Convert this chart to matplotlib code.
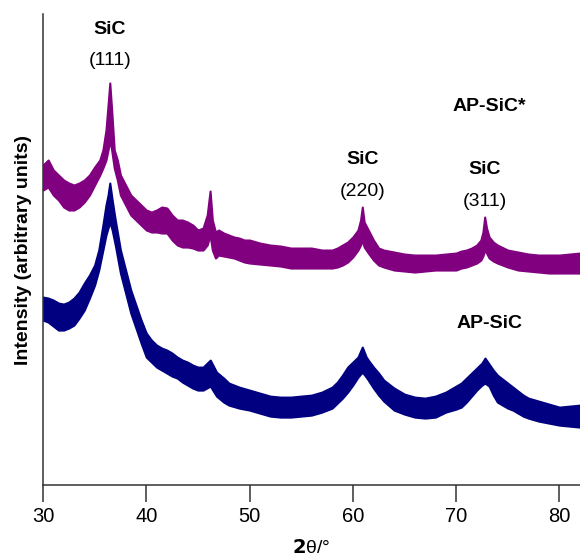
import numpy as np
import matplotlib.pyplot as plt

plt.rcParams['font.family'] = ['Liberation Sans', 'DejaVu Sans']

# AP-SiC* : 2-theta (deg) and upper / lower edge of the noisy trace (arbitrary units)
two_theta_star = [30, 30.5, 31, 31.5, 32, 32.5, 33, 33.5, 34, 34.5, 35, 35.5, 35.8, 36.1,
                  36.3, 36.47, 36.65, 36.9, 37.2, 37.5, 38, 38.5, 39, 39.5, 40, 40.5, 41,
                  41.5, 42, 42.5, 43, 43.5, 44, 44.5, 45, 45.5, 45.9, 46.18, 46.4, 46.7,
                  47, 47.5, 48, 48.5, 49, 49.5, 50, 51, 52, 53, 54, 55, 56, 57, 58, 58.5,
                  59, 59.5, 60, 60.5, 60.75, 60.92, 61.1, 61.5, 62, 62.5, 63, 64, 65, 66,
                  67, 68, 69, 70, 70.5, 71, 71.5, 72, 72.4, 72.6, 72.77, 72.95, 73.2,
                  73.6, 74, 75, 76, 77, 78, 79, 80, 81, 82]
star_upper = [320, 325, 315, 310, 305, 302, 300, 302, 305, 310, 318, 325, 335, 355,
              380, 402, 375, 335, 325, 310, 300, 290, 285, 280, 275, 273, 275,
              278, 277, 270, 265, 265, 263, 260, 255, 257, 270, 294, 265, 253,
              255, 252, 250, 248, 247, 245, 245, 242, 240, 239, 237, 237, 237, 235, 235, 237,
              240, 243, 248, 255, 265, 278, 263, 255, 245, 237, 235, 233, 231, 230,
              230, 230, 231, 232, 234, 235, 237, 240, 245, 253, 268, 257, 248,
              243, 240, 235, 233, 231, 230, 230, 230, 231, 232]
star_lower = [295, 298, 290, 285, 278, 275, 275, 278, 283, 290, 300, 310, 317, 325,
              335, 345, 335, 317, 305, 290, 280, 270, 265, 260, 255, 253, 253,
              252, 252, 245, 240, 238, 238, 237, 235, 235, 240, 250, 235, 227,
              230, 229, 228, 227, 225, 223, 222, 221, 220, 219, 217, 217, 217, 217, 217, 218,
              220, 223, 228, 235, 240, 245, 238, 232, 225, 220, 218, 215, 214, 213,
              214, 215, 215, 215, 217, 218, 220, 222, 225, 229, 235, 232, 227,
              224, 222, 218, 215, 214, 213, 212, 212, 212, 212]

# AP-SiC : 2-theta (deg) and upper / lower edge of the noisy trace (arbitrary units)
two_theta = [30, 30.5, 31, 31.5, 32, 32.5, 33, 33.5, 34, 34.5, 35, 35.4, 35.8, 36.1, 36.3,
             36.47, 36.7, 37, 37.5, 38, 38.5, 39, 39.5, 40, 40.5, 41, 41.5, 42, 42.5,
             43, 43.5, 44, 44.5, 45, 45.5, 46.2, 46.8, 47.5, 48, 49, 50, 51, 52, 53,
             54, 55, 56, 57, 58, 58.5, 59, 59.5, 60, 60.5, 60.92, 61.3, 61.5, 62, 62.5,
             63, 64, 65, 66, 67, 68, 69, 70, 70.5, 71, 71.5, 72, 72.5, 72.8, 73.2,
             73.6, 74, 74.5, 75, 75.5, 76, 76.5, 77, 78, 79, 80, 81, 82]
ap_upper = [188, 187, 185, 182, 181, 183, 187, 193, 202, 210, 220, 235, 260, 280, 290,
            302, 285, 265, 235, 215, 195, 180, 165, 152, 145, 140, 137, 135, 132,
            128, 125, 123, 120, 118, 118, 125, 113, 107, 102, 98, 95, 92, 89, 88,
            88, 89, 90, 93, 98, 103, 110, 118, 123, 128, 138, 128, 125, 118, 112,
            105, 97, 91, 88, 87, 89, 93, 99, 102, 107, 112, 117, 122, 127, 121,
            115, 110, 106, 102, 98, 94, 90, 87, 84, 81, 78, 79, 80]
ap_lower = [165, 163, 159, 155, 155, 157, 160, 167, 175, 187, 200, 215, 235, 250, 257,
            263, 255, 240, 212, 192, 172, 157, 142, 128, 123, 118, 115, 112, 109,
            107, 103, 100, 97, 95, 95, 99, 89, 83, 80, 77, 75, 72, 69, 68,
            68, 69, 70, 73, 77, 82, 87, 93, 100, 108, 113, 108, 105, 97, 90,
            84, 75, 71, 68, 67, 68, 73, 76, 78, 83, 89, 95, 100, 102, 99,
            90, 83, 80, 77, 75, 72, 69, 67, 64, 62, 60, 59, 58]

peak_pos = [36.47, 60.92, 72.77]
peak_hkl = ['(111)', '(220)', '(311)']
label_top = [455, 325, 315]

fig = plt.figure(figsize=(5.8, 5.57), dpi=100)
ax = fig.add_axes([0.0741, 0.129, 0.9259, 0.846])

ax.fill_between(two_theta_star, star_lower, star_upper, color='#800080', lw=1.5)
ax.fill_between(two_theta, ap_lower, ap_upper, color='#000080', lw=1.5)

for pos, hkl, top in zip(peak_pos, peak_hkl, label_top):
    ax.text(pos, top, 'SiC', ha='center', va='center', fontsize=14, fontweight='bold')
    ax.text(pos, top - 31, hkl, ha='center', va='center', fontsize=14)

ax.text(73.2, 378, 'AP-SiC*', ha='center', va='center', fontsize=14, fontweight='bold')
ax.text(73.2, 162, 'AP-SiC', ha='center', va='center', fontsize=14, fontweight='bold')

ax.set_xlim(30, 82)
ax.set_ylim(0, 471)
ax.set_xticks([30, 40, 50, 60, 70, 80])
ax.set_yticks([])
ax.tick_params(axis='x', direction='out', length=12, width=1.1, color='#333333',
               labelsize=14.5, pad=4)
for side in ['top', 'right']:
    ax.spines[side].set_visible(False)
for side in ['left', 'bottom']:
    ax.spines[side].set_linewidth(1.1)
    ax.spines[side].set_color('#333333')

ax.set_ylabel('Intensity (arbitrary units)', fontsize=14, fontweight='bold', labelpad=8)
ax.set_xlabel(r'$\mathbf{2}$θ/°', fontsize=14, labelpad=9)

fig.savefig('out.png', dpi=100)
